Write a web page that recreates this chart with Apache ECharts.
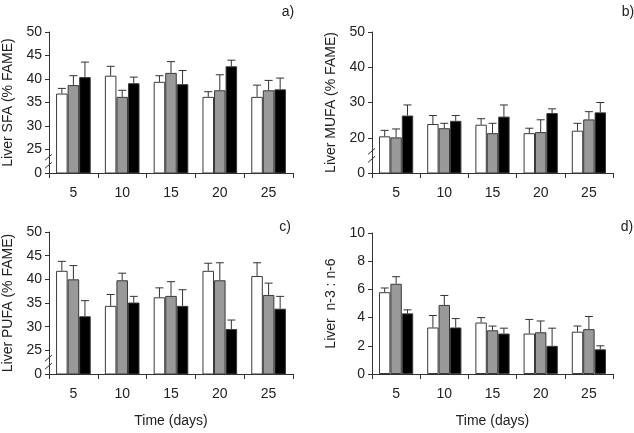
<!DOCTYPE html>
<html>
<head>
<meta charset="utf-8">
<script src="https://cdn.jsdelivr.net/npm/echarts@6/dist/echarts.min.js"></script>
<style>
  html, body { margin: 0; padding: 0; background: #fff; }
  #chart { width: 634px; height: 433px; }
</style>
</head>
<body>
<div id="chart"></div>
<script>
let days = ['5', '10', '15', '20', '25']

// a) SFA
let sfaWhite = [36.9, 40.7, 39.4, 36.2, 36.2]
let sfaWhiteErr = [1.1, 2.0, 1.3, 1.1, 2.5]
let sfaGray = [38.7, 36.2, 41.3, 37.6, 37.6]
let sfaGrayErr = [2.0, 1.4, 2.4, 3.3, 2.1]
let sfaBlack = [40.4, 39.1, 38.9, 42.7, 37.8]
let sfaBlackErr = [3.2, 1.3, 2.9, 1.3, 2.4]

// b) MUFA
let mufaWhite = [20.4, 23.9, 23.7, 21.3, 22.0]
let mufaWhiteErr = [1.7, 2.4, 1.7, 1.4, 2.1]
let mufaGray = [20.1, 22.7, 21.3, 21.6, 25.2]
let mufaGrayErr = [2.4, 1.4, 2.8, 3.5, 2.2]
let mufaBlack = [26.3, 24.8, 26.0, 27.0, 27.2]
let mufaBlackErr = [3.0, 1.5, 3.3, 1.2, 2.8]

// c) PUFA
let pufaWhite = [41.8, 34.4, 36.2, 41.8, 40.7]
let pufaWhiteErr = [2.0, 2.4, 2.0, 1.6, 2.8]
let pufaGray = [40.0, 39.8, 36.5, 39.8, 36.7]
let pufaGrayErr = [2.9, 1.5, 3.0, 3.7, 2.5]
let pufaBlack = [32.2, 35.1, 34.4, 29.5, 33.8]
let pufaBlackErr = [3.3, 1.3, 3.4, 1.9, 2.6]

// d) n-3 : n-6
let ratioWhite = [5.8, 3.3, 3.65, 2.87, 3.0]
let ratioWhiteErr = [0.3, 0.85, 0.35, 1.0, 0.4]
let ratioGray = [6.4, 4.9, 3.1, 2.96, 3.18]
let ratioGrayErr = [0.5, 0.67, 0.3, 0.8, 0.9]
let ratioBlack = [4.3, 3.3, 2.87, 2.0, 1.75]
let ratioBlackErr = [0.25, 0.63, 0.38, 1.25, 0.25]

let fills = ['#ffffff', '#999999', '#000000']
let font = 'Liberation Sans, Arial, sans-serif'
let txt = '#222'
let gapPct = 0.29

let panels = [
    {tag: 'a)', name: 'Liver SFA (% FAME)', min: 20, max: 50, step: 5, brk: true,
     means: [sfaWhite, sfaGray, sfaBlack], errs: [sfaWhiteErr, sfaGrayErr, sfaBlackErr],
     grid: {left: 49, right: 341, top: 32, bottom: 260}, time: false},
    {tag: 'b)', name: 'Liver MUFA (% FAME)', min: 10, max: 50, step: 10, brk: true,
     means: [mufaWhite, mufaGray, mufaBlack], errs: [mufaWhiteErr, mufaGrayErr, mufaBlackErr],
     grid: {left: 372, right: 21, top: 32, bottom: 260}, time: false},
    {tag: 'c)', name: 'Liver PUFA (% FAME)', min: 20, max: 50, step: 5, brk: true,
     means: [pufaWhite, pufaGray, pufaBlack], errs: [pufaWhiteErr, pufaGrayErr, pufaBlackErr],
     grid: {left: 49, right: 341, top: 232, bottom: 59}, time: true},
    {tag: 'd)', name: 'Liver  n-3 : n-6', min: 0, max: 10, step: 2, brk: false,
     means: [ratioWhite, ratioGray, ratioBlack], errs: [ratioWhiteErr, ratioGrayErr, ratioBlackErr],
     grid: {left: 372, right: 21, top: 233, bottom: 59}, time: true}
]

let grids = [], xAxes = [], yAxes = [], series = []

panels.forEach(function(p, gi){
    grids.push(p.grid)
    xAxes.push({
        type: 'category', gridIndex: gi, data: days,
        name: p.time ? 'Time (days)' : '', nameLocation: 'middle', nameGap: 40,
        nameTextStyle: {fontFamily: font, fontSize: 14, color: txt},
        axisLine: {lineStyle: {color: '#333', width: 1}},
        axisTick: {show: true, length: 5, lineStyle: {color: '#333'}},
        axisLabel: {fontFamily: font, fontSize: 14, color: txt, margin: 13}
    })
    let lo = p.min
    yAxes.push({
        type: 'value', gridIndex: gi, min: p.min, max: p.max, interval: p.step,
        name: p.name, nameLocation: 'middle', nameGap: 34,
        nameTextStyle: {fontFamily: font, fontSize: 14, color: txt},
        axisLine: {show: true, lineStyle: {color: '#333', width: 1}},
        axisTick: {show: true, length: 4, lineStyle: {color: '#333'}},
        splitLine: {show: false},
        axisLabel: {fontFamily: font, fontSize: 14, color: txt, margin: 7,
            formatter: function(v){ return (p.brk && v === lo) ? '0' : String(v) }}
    })
    p.means.forEach(function(vals, k){
        series.push({
            type: 'bar', xAxisIndex: gi, yAxisIndex: gi, data: vals,
            barGap: 0, barCategoryGap: (gapPct * 100) + '%',
            itemStyle: {color: fills[k], borderColor: '#3a3a3a', borderWidth: 1},
            silent: true
        })
    })
    let errData = []
    p.means.forEach(function(vals, k){
        vals.forEach(function(v, i){ errData.push([i, v, p.errs[k][i], k]) })
    })
    series.push({
        type: 'custom', xAxisIndex: gi, yAxisIndex: gi, data: errData, z: 5, silent: true,
        renderItem: function(params, api){
            let cat = api.value(0), v = api.value(1), e = api.value(2), k = api.value(3)
            let bw = api.size([1, 0])[0] * (1 - gapPct) / 3
            let base = api.coord([cat, v])
            let x = base[0] + (k - 1) * bw
            let top = api.coord([cat, v + e])[1]
            let st = {stroke: '#333', lineWidth: 1}
            return {type: 'group', children: [
                {type: 'line', shape: {x1: x, y1: base[1], x2: x, y2: top}, style: st},
                {type: 'line', shape: {x1: x - 4, y1: top, x2: x + 4, y2: top}, style: st}
            ]}
        }
    })
})

var myChart = echarts.init(document.getElementById('chart'))
myChart.setOption({
    animation: false,
    backgroundColor: '#fff',
    grid: grids, xAxis: xAxes, yAxis: yAxes, series: series
})

// panel tags and axis break marks
let gfx = []
let tagPos = [[288, 12], [628, 12], [285, 227], [627, 227]]
panels.forEach(function(p, gi){
    gfx.push({type: 'text', x: tagPos[gi][0], y: tagPos[gi][1],
        style: {text: p.tag, fill: txt, font: '14px ' + font, textAlign: 'center', textVerticalAlign: 'middle'}})
    if(p.brk){
        let ym = myChart.convertToPixel({yAxisIndex: gi}, p.min + p.step / 2)
        let ax = p.grid.left
        let st = {stroke: '#333', lineWidth: 1}
        gfx.push({type: 'rect', shape: {x: ax - 1, y: ym - 3, width: 3, height: 6}, style: {fill: '#fff'}})
        gfx.push({type: 'line', shape: {x1: ax - 4, y1: ym - 1, x2: ax + 3, y2: ym - 7}, style: st})
        gfx.push({type: 'line', shape: {x1: ax - 4, y1: ym + 7, x2: ax + 3, y2: ym + 1}, style: st})
    }
})
myChart.setOption({graphic: gfx})
</script>
</body>
</html>
